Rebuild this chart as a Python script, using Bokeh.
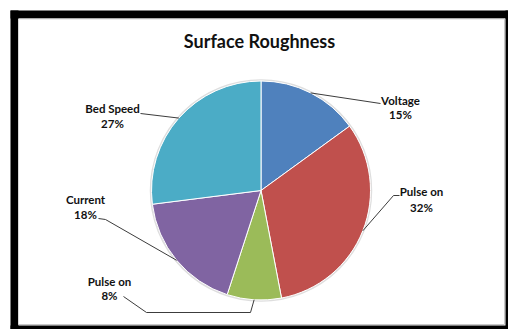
import math
from bokeh.plotting import figure
from bokeh.models import Range1d
from bokeh.core.properties import value
from bokeh.embed import file_html
from bokeh.resources import INLINE

# ---- data ----
categories = ["Voltage", "Pulse on", "Pulse on", "Current", "Bed Speed"]
shares = [15, 32, 8, 18, 27]
colors = ["#4F81BD", "#C0504D", "#9BBB59", "#8064A2", "#4BACC6"]
title_text = "Surface Roughness"

# ---- layout (pixel space, y measured from top) ----
W, H = 508, 329
CX, CY, R = 260.5, 190.0, 109.5
label_x = [400, 421, 109, 85, 112]
name_y = [100, 191, 281, 199, 108]
pct_y = [114, 207, 295, 214, 123]
elbows = [
    [(380, 103)],
    [(393, 195), (399, 195)],
    [(250, 312), (146, 312), (123, 296)],
    [(105, 219), (98, 218)],
    [(140, 113)],
]

def Y(py):
    return H - py

p = figure(width=W, height=H, output_backend="svg", toolbar_location=None,
           x_range=Range1d(0, W), y_range=Range1d(0, H), min_border=0,
           outline_line_color=None, background_fill_color="white",
           border_fill_color="white")
p.axis.visible = False
p.grid.visible = False

# frame
p.quad(left=[10, 10, 505, 10], right=[18, 508, 508, 508],
       top=[Y(10), Y(10), Y(10), Y(325)], bottom=[Y(329), Y(18), Y(329), Y(329)],
       fill_color="black", line_color=None)
p.segment(x0=[504, 18], y0=[Y(18), Y(324)], x1=[504, 504], y1=[Y(324), Y(324)],
          line_color="#c8c8c8", line_width=1)
p.segment(x0=[18, 18], y0=[Y(18.5), Y(18.5)], x1=[504, 18], y1=[Y(18.5), Y(324)],
          line_color="#d8d8d8", line_width=1)

# pie
total = sum(shares)
starts, ends, mids = [], [], []
cum = 0.0
for v in shares:
    a0 = math.pi / 2 - 2 * math.pi * cum / total
    cum += v
    a1 = math.pi / 2 - 2 * math.pi * cum / total
    starts.append(a0)
    ends.append(a1)
    mids.append((a0 + a1) / 2)

p.scatter(x=[CX], y=[Y(CY)], size=2 * R + 2, marker="circle",
          fill_color=None, line_color="#dedede", line_width=1.5)
p.wedge(x=CX, y=Y(CY), radius=R, start_angle=starts, end_angle=ends,
        direction="clock", fill_color=colors, line_color="white", line_width=1)

# leader lines
xs, ys = [], []
for m, el in zip(mids, elbows):
    sx = CX + R * math.cos(m)
    sy = Y(CY) + R * math.sin(m)
    xs.append([sx] + [e[0] for e in el])
    ys.append([sy] + [Y(e[1]) for e in el])
p.multi_line(xs=xs, ys=ys, line_color="#3c3c3c", line_width=1)

# labels
font = value("Lato")
p.text(x=label_x, y=[Y(v) for v in name_y], text=categories,
       text_font=font, text_font_style="bold", text_font_size="11.5px",
       text_align="center", text_baseline="middle", text_color="#111111")
p.text(x=label_x, y=[Y(v) for v in pct_y], text=[f"{v}%" for v in shares],
       text_font=font, text_font_style="bold", text_font_size="11.5px",
       text_align="center", text_baseline="middle", text_color="#111111")

# title
p.text(x=[259], y=[Y(40)], text=[title_text], text_font=font,
       text_font_style="bold", text_font_size="18px", text_align="center",
       text_baseline="middle", text_color="#111111")

open("out.html", "w").write(file_html(p, INLINE))
